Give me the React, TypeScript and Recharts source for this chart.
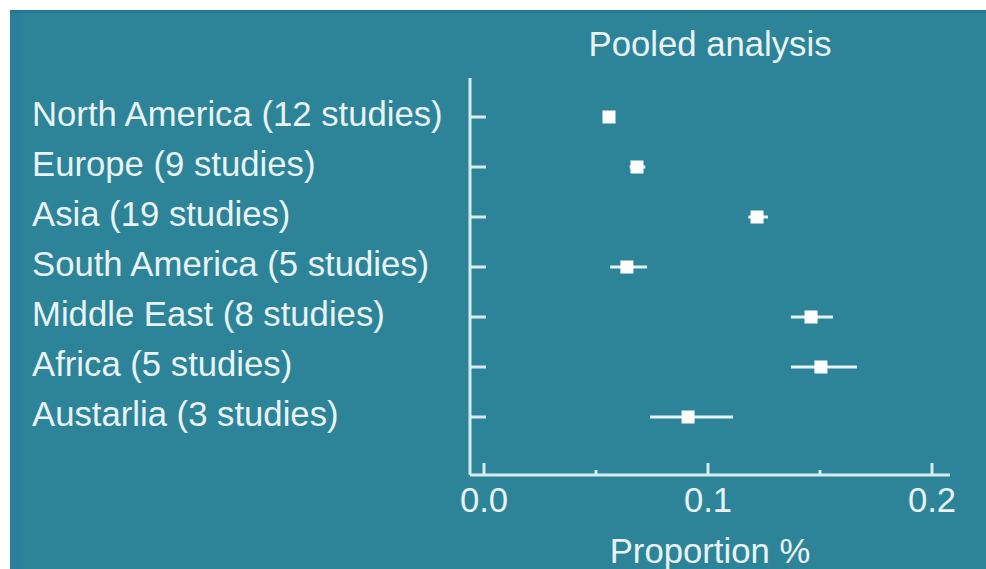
import React from 'react';
import { ScatterChart, Scatter, XAxis, YAxis, ErrorBar } from 'recharts';

// pooled proportion per region, with the 95% CI
const regions = [
  'North America (12 studies)',
  'Europe (9 studies)',
  'Asia (19 studies)',
  'South America (5 studies)',
  'Middle East (8 studies)',
  'Africa (5 studies)',
  'Austarlia (3 studies)',
];
const estimates = [0.0558, 0.0683, 0.1219, 0.0638, 0.146, 0.1504, 0.0911];
const lower = [0.0545, 0.065, 0.118, 0.0563, 0.137, 0.137, 0.0741];
const upper = [0.0572, 0.072, 0.1268, 0.0728, 0.1558, 0.1665, 0.1112];

const xTicks = [0, 0.05, 0.1, 0.15, 0.2];
const xTickLabels = ['0.0', '', '0.1', '', '0.2'];

const bg = '#2d8498';
const axisColor = '#d6ecf0';
const textColor = '#e8f4f7';
const font = '"Liberation Sans", Arial, sans-serif';
const fontSize = 34.7;

const data = regions.map((name, i) => ({
  name,
  est: estimates[i],
  err: [estimates[i] - lower[i], upper[i] - estimates[i]],
}));

const RegionTick = (props: any) => {
  const { x, y, payload } = props;
  return (
    <g>
      <line x1={x} x2={x + 16} y1={y} y2={y} stroke={axisColor} strokeWidth={3} />
      <text x={x - 438} y={y} dy="0.27em" textAnchor="start" fill={textColor} fontSize={fontSize} fontFamily={font}>
        {payload.value}
      </text>
    </g>
  );
};

const ProportionTick = (props: any) => {
  const { x, y, payload } = props;
  const label = xTickLabels[xTicks.indexOf(payload.value)];
  const len = label ? 12 : 5;
  return (
    <g>
      <line x1={x} x2={x} y1={y} y2={y - len} stroke={axisColor} strokeWidth={3} />
      {label && (
        <text x={x} y={y + 25} dy="0.35em" textAnchor="middle" fill={textColor} fontSize={fontSize} fontFamily={font}>
          {label}
        </text>
      )}
    </g>
  );
};

const Square = (props: any) => {
  const { cx, cy } = props;
  return <rect x={cx - 6.5} y={cy - 6.5} width={13} height={13} fill="#ffffff" />;
};

export default function App() {
  return (
    <div style={{ position: 'absolute', left: 10, top: 10, width: 976, height: 559, background: bg, fontFamily: font }}>
      <div style={{ position: 'absolute', left: 0, top: 0, width: 10, height: '100%', background: '#29809a' }} />
      <div style={{ position: 'absolute', left: 0, top: 0, width: '100%', height: 3, background: '#237a8f' }} />
      <div
        style={{
          position: 'absolute',
          left: 460,
          top: 17,
          width: 480,
          textAlign: 'center',
          fontSize: fontSize,
          lineHeight: '34px',
          color: textColor,
        }}
      >
        Pooled analysis
      </div>
      <div style={{ position: 'absolute', left: 0, top: 0 }}>
        <ScatterChart width={976} height={559} margin={{ top: 68, right: 36, left: 0, bottom: 0 }}>
          <XAxis
            type="number"
            dataKey="est"
            domain={[0, 0.2]}
            ticks={xTicks}
            height={94}
            padding={{ left: 14, right: 18 }}
            stroke={axisColor}
            strokeWidth={3}
            tickLine={false}
            tickSize={0}
            tickMargin={0}
            tick={<ProportionTick />}
            label={{ value: 'Proportion %', position: 'insideBottom', offset: 6, fill: textColor, fontSize: fontSize, fontFamily: font }}
          />
          <YAxis
            type="category"
            dataKey="name"
            width={460}
            reversed
            padding={{ top: 14, bottom: 33 }}
            stroke={axisColor}
            strokeWidth={3}
            tickLine={false}
            tickSize={0}
            tickMargin={0}
            interval={0}
            tick={<RegionTick />}
          />
          <Scatter data={data} shape={<Square />} isAnimationActive={false}>
            <ErrorBar dataKey="err" direction="x" width={0} stroke="#e3f2f5" strokeWidth={3} isAnimationActive={false} />
          </Scatter>
        </ScatterChart>
      </div>
    </div>
  );
}
